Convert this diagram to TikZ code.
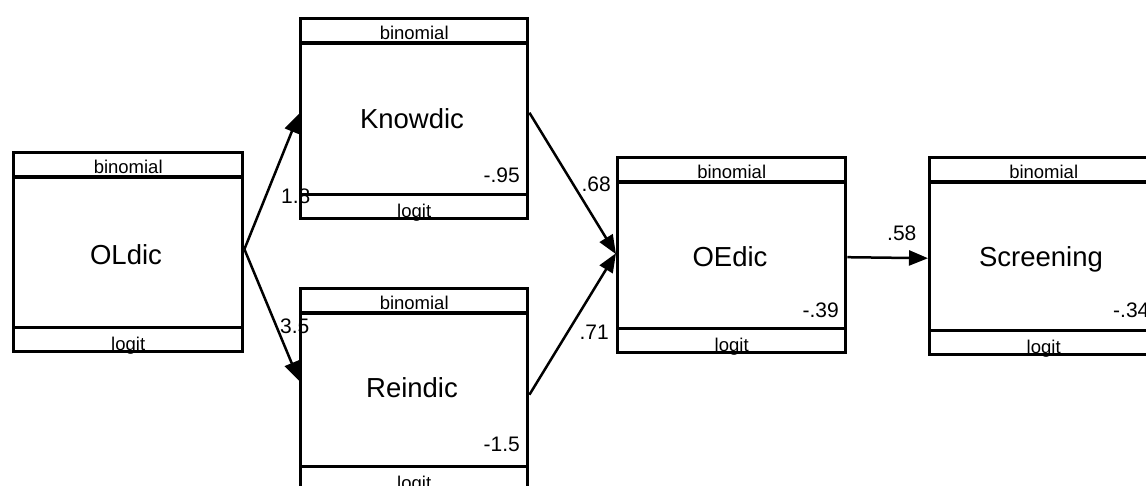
\documentclass[tikz,border=0pt]{standalone}
\usepackage{fontspec}
\setmainfont{Liberation Sans}
\usetikzlibrary{arrows.meta,calc}
\tikzset{
  box/.style={draw,rectangle,line width=3.4pt,inner sep=0pt,anchor=north west},
  band/.style={line width=3.4pt},
  bandtxt/.style={anchor=base,inner sep=0pt,font=\fontsize{18.5}{20}\selectfont},
  nametxt/.style={anchor=base,inner sep=0pt,font=\fontsize{27.5}{30}\selectfont},
  numtxt/.style={inner sep=0pt,font=\fontsize{21}{23}\selectfont},
  path/.style={line width=2.5pt,-{Triangle[length=19pt,width=15pt]}}
}
\begin{document}
\begin{tikzpicture}[x=1pt,y=-1pt]
\clip (0,0) rectangle (1146,485);
\fill[white] (0,0) rectangle (1146,485);
% boxes
\node[box,minimum width=229pt,minimum height=199pt] (OL) at (12,151) {};
\node[box,minimum width=227pt,minimum height=200pt] (KN) at (299,17) {};
\node[box,minimum width=227pt,minimum height=202pt] (RE) at (299,287) {};
\node[box,minimum width=228pt,minimum height=195pt] (OE) at (616,156) {};
\node[box,minimum width=228pt,minimum height=197pt] (SC) at (928,156) {};
% bands
\foreach \b in {OL,KN,RE,OE,SC}{
  \draw[band] ($(\b.north west)+(0,26)$) -- ($(\b.north east)+(0,26)$);
  \draw[band] ($(\b.south west)+(0,-26)$) -- ($(\b.south east)+(0,-26)$);
  \node[bandtxt] (\b-top) at ($(\b.north)+(0,22.5)$) {binomial};
  \node[bandtxt] (\b-bot) at ($(\b.south)+(0,-3)$) {logit};
}
% names
\node[nametxt] (OLn) at (126,264) {OLdic};
\node[nametxt] (KNn) at (412,128) {Knowdic};
\node[nametxt] (REn) at (412,397) {Reindic};
\node[nametxt] (OEn) at (730,266) {OEdic};
\node[nametxt] (SCn) at (1041,266) {Screening};
% numbers
\node[numtxt,anchor=base east] (n95) at (520,182) {-.95};
\node[numtxt,anchor=base east] (n15) at (520,451) {-1.5};
\node[numtxt,anchor=base east] (n39) at (839,317) {-.39};
\node[numtxt,anchor=base west] (n34) at (1113,317) {-.34};
% arrows
\draw[path] ([yshift=3pt]OL.east) -- ([yshift=5pt]KN.west);
\draw[path] ([yshift=3pt]OL.east) -- ([yshift=9pt]RE.west);
\draw[path] ([yshift=6pt]KN.east) -- ([yshift=1pt]OE.west);
\draw[path] ([yshift=-5pt]RE.east) -- ([yshift=2pt]OE.west);
\draw[path] ([yshift=-2pt]OE.east) -- ([yshift=-2pt]SC.west);
% coefficients
\node[numtxt,anchor=base west] (c18) at (281,203) {1.8};
\node[numtxt,anchor=base west] (c35) at (280,333) {3.5};
\node[numtxt,anchor=base east] (c68) at (611,191) {.68};
\node[numtxt,anchor=base east] (c71) at (609,339) {.71};
\node[numtxt,anchor=base west] (c58) at (887,240) {.58};
\end{tikzpicture}
\end{document}
